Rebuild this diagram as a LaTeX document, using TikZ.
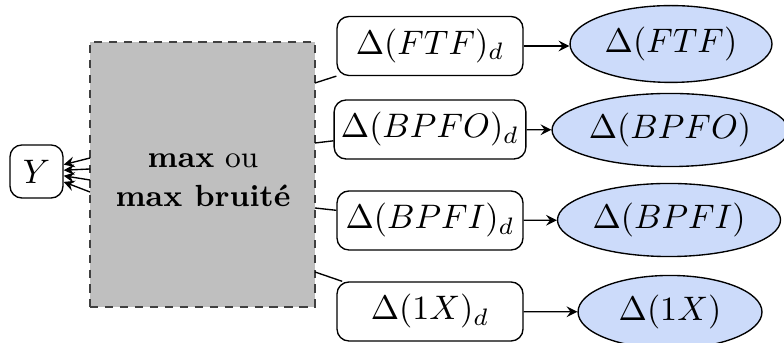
\documentclass[tikz,border=0pt]{standalone}
\usetikzlibrary{shapes.geometric,arrows}
\definecolor{ellfill}{RGB}{204,219,250}
\begin{document}
\begin{tikzpicture}[x=0.29412pt,y=-0.29412pt,
  dbox/.style={draw,rounded corners=3.5pt,minimum width=54.7pt,minimum height=17.35pt,inner sep=2pt},
  ell/.style={draw,ellipse,fill=ellfill,inner sep=0pt,minimum height=21.5pt},
  conn/.style={line width=0.4pt},
  arr/.style={line width=0.4pt,-stealth}]
\useasboundingbox (0,0) rectangle (784,343);
% gray block
\node[draw=black!75,dash pattern=on 2.4pt off 2pt,fill=lightgray,minimum width=66.2pt,minimum height=77.9pt,inner sep=0pt] (blk) at (202.5,174.5) {};
\node[align=center,font=\fontsize{9}{11.5}\selectfont] (lbl) at (203,180) {\textbf{max} ou\\\textbf{max bruité}};
% Y
\node[draw,rounded corners=3.5pt,minimum size=15.6pt,inner sep=0pt] (Y) at (36.5,171.5) {$Y$};
% boxes
\node[dbox] (b1) at (430,46) {$\Delta(FTF)_d$};
\node[dbox] (b2) at (430,129.5) {$\Delta(BPFO)_d$};
\node[dbox] (b3) at (430,220.5) {$\Delta(BPFI)_d$};
\node[dbox] (b4) at (430,311.5) {$\Delta(1X)_d$};
% ellipses
\node[ell,minimum width=59.4pt,minimum height=22.6pt] (e1) at (671,44) {$\Delta(FTF)$};
\node[ell,minimum width=69.4pt] (e2) at (670,130) {$\Delta(BPFO)$};
\node[ell,minimum width=65.6pt] (e3) at (669,220) {$\Delta(BPFI)$};
\node[ell,minimum width=54.1pt] (e4) at (670,312) {$\Delta(1X)$};
% coordinates on block edges
\coordinate (r1) at (315,83);
\coordinate (r2) at (315,143);
\coordinate (r3) at (315,208);
\coordinate (r4) at (315,272);
\coordinate (l1) at (90,158);
\coordinate (l2) at (90,169);
\coordinate (l3) at (90,180);
\coordinate (l4) at (90,192);
% connectors
\draw[conn] (b1) -- (r1);
\draw[conn] (b2) -- (r2);
\draw[conn] (b3) -- (r3);
\draw[conn] (b4) -- (r4);
\draw[arr] (b1.east) -- (b1.east -| e1.west);
\draw[arr] (b2) -- (e2);
\draw[arr] (b3) -- (e3);
\draw[arr] (b4) -- (e4);
\draw[arr] (l1) -- (Y);
\draw[arr] (l2) -- (Y);
\draw[arr] (l3) -- (Y);
\draw[arr] (l4) -- (Y);
\end{tikzpicture}
\end{document}
